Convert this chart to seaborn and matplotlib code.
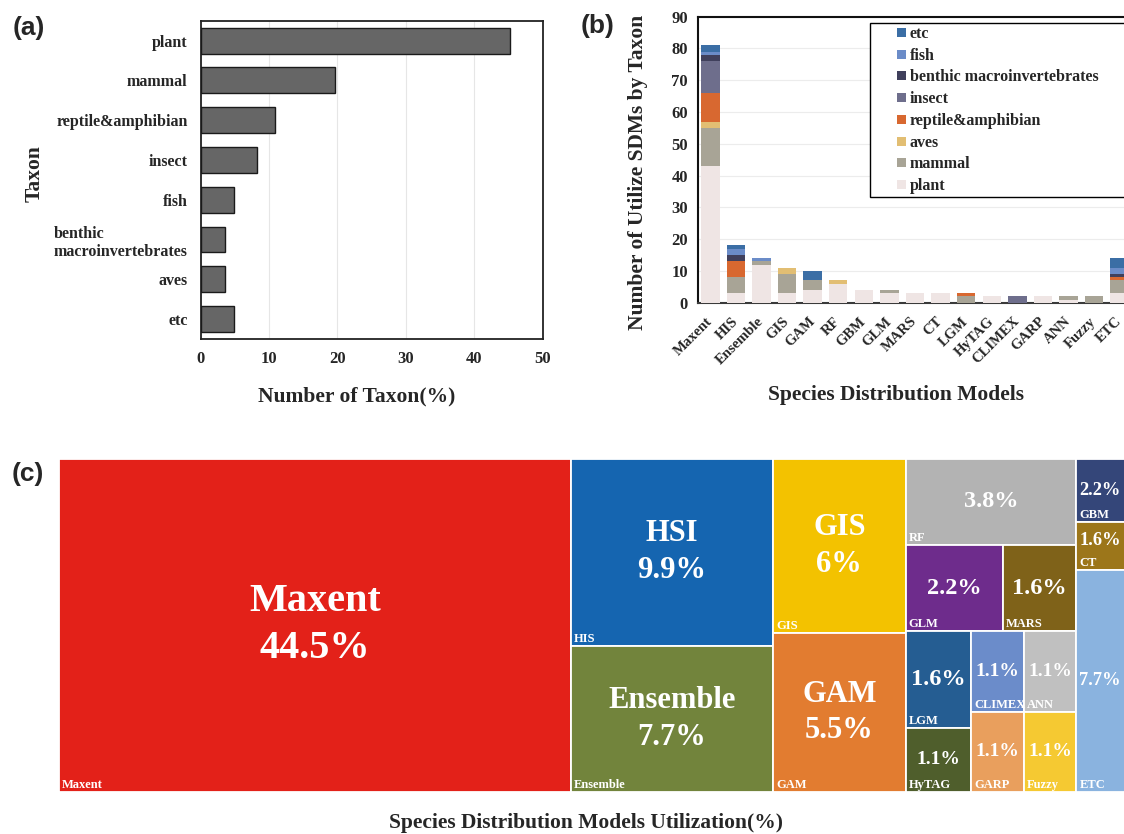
import matplotlib
matplotlib.use("Agg")
import matplotlib.pyplot as plt
from matplotlib.patches import Patch, Rectangle
import numpy as np
import pandas as pd
import seaborn as sns

# ---------------- (a) share of studies by taxon (%) ----------------
taxa = ["plant", "mammal", "reptile&amphibian", "insect", "fish",
        "benthic\nmacroinvertebrates", "aves", "etc"]
taxon_share = [45.3, 19.7, 10.9, 8.2, 4.8, 3.5, 3.5, 4.8]

# ---------------- (b) SDM applications per model, by taxon ----------------
models = ["Maxent", "HIS", "Ensemble", "GIS", "GAM", "RF", "GBM", "GLM", "MARS",
          "CT", "LGM", "HyTAG", "CLIMEX", "GARP", "ANN", "Fuzzy", "ETC"]
plant = [43, 3, 12, 3, 4, 6, 4, 3, 3, 3, 0, 2, 0, 2, 1, 0, 3]
mammal = [12, 5, 1, 6, 3, 0, 0, 1, 0, 0, 2, 0, 0, 0, 1, 2, 4]
aves = [2, 0, 0, 2, 0, 1, 0, 0, 0, 0, 0, 0, 0, 0, 0, 0, 0]
reptile_amphibian = [9, 5, 0, 0, 0, 0, 0, 0, 0, 0, 1, 0, 0, 0, 0, 0, 1]
insect = [10, 0, 0, 0, 0, 0, 0, 0, 0, 0, 0, 0, 2, 0, 0, 0, 0]
benthic = [2, 2, 0, 0, 0, 0, 0, 0, 0, 0, 0, 0, 0, 0, 0, 0, 1]
fish = [1, 2, 1, 0, 0, 0, 0, 0, 0, 0, 0, 0, 0, 0, 0, 0, 2]
etc = [2, 1, 0, 0, 3, 0, 0, 0, 0, 0, 0, 0, 0, 0, 0, 0, 3]

stack_names = ["plant", "mammal", "aves", "reptile&amphibian", "insect",
               "benthic macroinvertebrates", "fish", "etc"]
stack_values = [plant, mammal, aves, reptile_amphibian, insect, benthic, fish, etc]
stack_colors = ["#efe5e4", "#a8a496", "#e2be73", "#d86830", "#6e6e8c",
                "#40405c", "#6b8cc8", "#3b6ea5"]

# ---------------- (c) treemap of model utilisation ----------------
tile_colors = {
    "Maxent": "#e32119", "HIS": "#1565b0", "Ensemble": "#72843c", "GIS": "#f3c200",
    "GAM": "#e27c30", "RF": "#b3b3b3", "GBM": "#344679", "GLM": "#6e2c8c",
    "MARS": "#7f6219", "CT": "#9c761a", "LGM": "#255d92", "HyTAG": "#4f5e2c",
    "CLIMEX": "#6b8cca", "GARP": "#e99f5d", "ANN": "#c0c0c0", "Fuzzy": "#f5c932",
    "ETC": "#8ab3df",
}
tile_titles = {"HIS": "HSI"}
# nested slicing order: columns, then rows, alternating at each level
left_block = ["RF", ["GLM", "MARS"],
              [["LGM", "HyTAG"], ["CLIMEX", "GARP"], ["ANN", "Fuzzy"]]]
right_block = ["GBM", "CT", "ETC"]
tiling = ["Maxent", ["HIS", "Ensemble"], ["GIS", "GAM"], [[left_block, right_block]]]

# ---------------- style ----------------
sns.set_theme(style="white")
plt.rcParams["font.family"] = ["Liberation Serif", "DejaVu Serif"]
plt.rcParams["font.weight"] = "bold"
plt.rcParams["axes.labelweight"] = "bold"

W_PX, H_PX, DPI = 1124, 834, 100
fig = plt.figure(figsize=(W_PX / DPI, H_PX / DPI), dpi=DPI)
fig.patch.set_facecolor("white")


def px_axes(left, top, right, bottom):
    return fig.add_axes([left / W_PX, 1 - bottom / H_PX,
                         (right - left) / W_PX, (bottom - top) / H_PX])


def centered_label(axis, x, y):
    axis.set_label_coords(x, y)
    axis.label.set_va("center")
    axis.label.set_ha("center")


# ================= (a) =================
ax_a = px_axes(200.7, 20.7, 542.5, 339)
df_a = pd.DataFrame({"taxon": taxa, "share": taxon_share})
sns.barplot(data=df_a, x="share", y="taxon", orient="h", color="#666666",
            saturation=1, width=0.65, edgecolor="#1a1a1a", linewidth=1.0,
            errorbar=None, ax=ax_a, zorder=3)
ax_a.set_xlim(0, 50)
ax_a.set_xticks(range(0, 51, 10))
ax_a.xaxis.grid(True, color="#e6e6e6", linewidth=0.8)
ax_a.set_axisbelow(True)
for sp in ax_a.spines.values():
    sp.set_visible(True)
    sp.set_color("#222222")
    sp.set_linewidth(1.3)
ax_a.tick_params(axis="both", length=0)
ax_a.tick_params(axis="y", pad=9.5, labelsize=11.5)
ax_a.tick_params(axis="x", pad=8.5, labelsize=12)
for lbl in ax_a.get_yticklabels():
    lbl.set_multialignment("left")
ax_a.set_xlabel("Number of Taxon(%)", fontsize=15.5)
ax_a.set_ylabel("Taxon", fontsize=15.5)
centered_label(ax_a.xaxis, 0.457, -0.182)
centered_label(ax_a.yaxis, -0.486, 0.52)

# ================= (b) =================
ax_b = px_axes(697.5, 16.7, 1132.5, 302.7)
counts = pd.DataFrame(dict(zip(stack_names, stack_values)), index=models)
cum = counts.cumsum(axis=1)
long = (cum.reset_index(names="model")
        .melt(id_vars="model", var_name="taxon", value_name="top"))
legend_order = stack_names[::-1]
palette = dict(zip(stack_names, stack_colors))
# cumulative tops drawn from the highest layer down give the stacked bars
sns.barplot(data=long, x="model", y="top", hue="taxon", hue_order=legend_order,
            order=models, dodge=False, palette=palette, saturation=1, width=0.72,
            linewidth=0, errorbar=None, legend=False, ax=ax_b, zorder=3)
ax_b.set_ylim(0, 90)
ax_b.set_yticks(range(0, 91, 10))
ax_b.yaxis.grid(True, color="#ececec", linewidth=0.8)
ax_b.set_axisbelow(True)
for name in ["left", "top"]:
    ax_b.spines[name].set_visible(True)
    ax_b.spines[name].set_color("#111111")
    ax_b.spines[name].set_linewidth(1.5)
ax_b.spines["bottom"].set_visible(True)
ax_b.spines["bottom"].set_color("#3a3a3a")
ax_b.spines["bottom"].set_linewidth(1.5)
ax_b.spines["bottom"].set_zorder(2.5)
ax_b.spines["right"].set_visible(False)
ax_b.tick_params(axis="y", length=0, pad=7, labelsize=12)
ax_b.tick_params(axis="x", which="major", length=0, pad=12, labelsize=10.5)
ax_b.set_xticks(np.arange(-0.5, len(models)), minor=True)
ax_b.tick_params(axis="x", which="minor", length=4, width=0.8,
                 color="#c8c8c8", direction="out")
plt.setp(ax_b.get_xticklabels(), rotation=45, ha="right", va="center",
         rotation_mode="anchor")
ax_b.set_xlabel("Species Distribution Models", fontsize=15.5)
ax_b.set_ylabel("Number of Utilize SDMs by Taxon", fontsize=15.5)
centered_label(ax_b.xaxis, 0.456, -0.3227)
centered_label(ax_b.yaxis, -0.1368, 0.457)


class SquareKey:
    """Small square legend key drawn at the right end of the handle box."""

    def legend_artist(self, legend, orig_handle, fontsize, handlebox):
        side = 0.56 * fontsize
        x0 = handlebox.xdescent + handlebox.width - side
        y0 = handlebox.ydescent + (handlebox.height - side) / 2
        key = Rectangle((x0, y0), side, side, facecolor=orig_handle.get_facecolor(),
                        edgecolor="none", transform=handlebox.get_transform())
        handlebox.add_artist(key)
        return key


handles = [Patch(facecolor=palette[n], label=n) for n in legend_order]
leg = ax_b.legend(handles=handles, labels=legend_order, loc="upper left",
                  bbox_to_anchor=(0.3966, 0.3766, 0.60, 0.6024), mode="expand",
                  borderaxespad=0, borderpad=0.2, handlelength=2.05,
                  handleheight=0.7, handletextpad=0.25, labelspacing=0.36,
                  prop={"weight": "bold", "size": 11.5}, frameon=True,
                  fancybox=False, framealpha=1, edgecolor="black",
                  handler_map={Patch: SquareKey()})
leg.get_frame().set_linewidth(1.0)

# ================= (c) =================
ax_c = px_axes(59, 458.5, 1209, 792)
totals = counts.sum(axis=1)
share = totals / totals.sum() * 100
pos = ax_c.get_position()
cw, ch = pos.width * W_PX, pos.height * H_PX
visible_right = (1 - pos.x0) * W_PX  # figure edge in the treemap's pixel units


def node_total(node):
    if isinstance(node, str):
        return totals[node]
    return sum(node_total(c) for c in node)


def slice_layout(node, x, y, w, h, horizontal, out):
    if isinstance(node, str):
        out[node] = (x, y, w, h)
        return
    sizes = [node_total(c) for c in node]
    whole = sum(sizes)
    cursor = x if horizontal else y
    for child, size in zip(node, sizes):
        frac = size / whole
        if horizontal:
            slice_layout(child, cursor, y, w * frac, h, False, out)
            cursor += w * frac
        else:
            slice_layout(child, x, cursor, w, h * frac, True, out)
            cursor += h * frac


def fmt_pct(p):
    s = f"{p:.1f}"
    if s.endswith(".0"):
        s = s[:-2]
    return s + "%"


rects = {}
slice_layout(tiling, 0, 0, cw, ch, True, rects)
ax_c.set_xlim(0, cw)
ax_c.set_ylim(ch, 0)
ax_c.axis("off")
renderer = fig.canvas.get_renderer()

for m in models:
    x, y, w, h = rects[m]
    ax_c.add_patch(Rectangle((x, y), w, h, facecolor=tile_colors[m],
                             edgecolor="white", linewidth=1.3))
    p = share[m]
    # centre labels on the part of the tile that lies inside the figure
    vis_w = min(x + w, visible_right) - x
    short = min(vis_w, h)
    cy = y + h / 2
    if short >= 120:
        fs = 29 if short >= 300 else 22
        txt = f"{tile_titles.get(m, m)}\n{fmt_pct(p)}"
    else:
        fs = 14 if p < 1.5 else 17.5
        txt = fmt_pct(p)
        if h < 60:
            cy = y + (h - 10) / 2
    t = ax_c.text(x + vis_w / 2, cy, txt, ha="center", va="center",
                  color="white", fontsize=fs, linespacing=1.35)
    room = vis_w - 6
    tw = t.get_window_extent(renderer).width
    if tw > room:
        t.set_fontsize(fs * room / tw)
    ax_c.text(x + 3, y + h - 4, m, ha="left", va="baseline", color="white",
              fontsize=9)

ax_c.text(0.458, -0.093, "Species Distribution Models Utilization(%)",
          transform=ax_c.transAxes, ha="center", va="center", fontsize=15.5)

# panel tags
for tag, (tx, ty) in {"(a)": (29, 27.5), "(b)": (598, 25.5), "(c)": (28, 474.5)}.items():
    fig.text(tx / W_PX, 1 - ty / H_PX, tag, ha="center", va="center",
             fontsize=19, fontweight="bold", family=["Liberation Sans", "DejaVu Sans"])

fig.savefig("out.png", dpi=DPI)
